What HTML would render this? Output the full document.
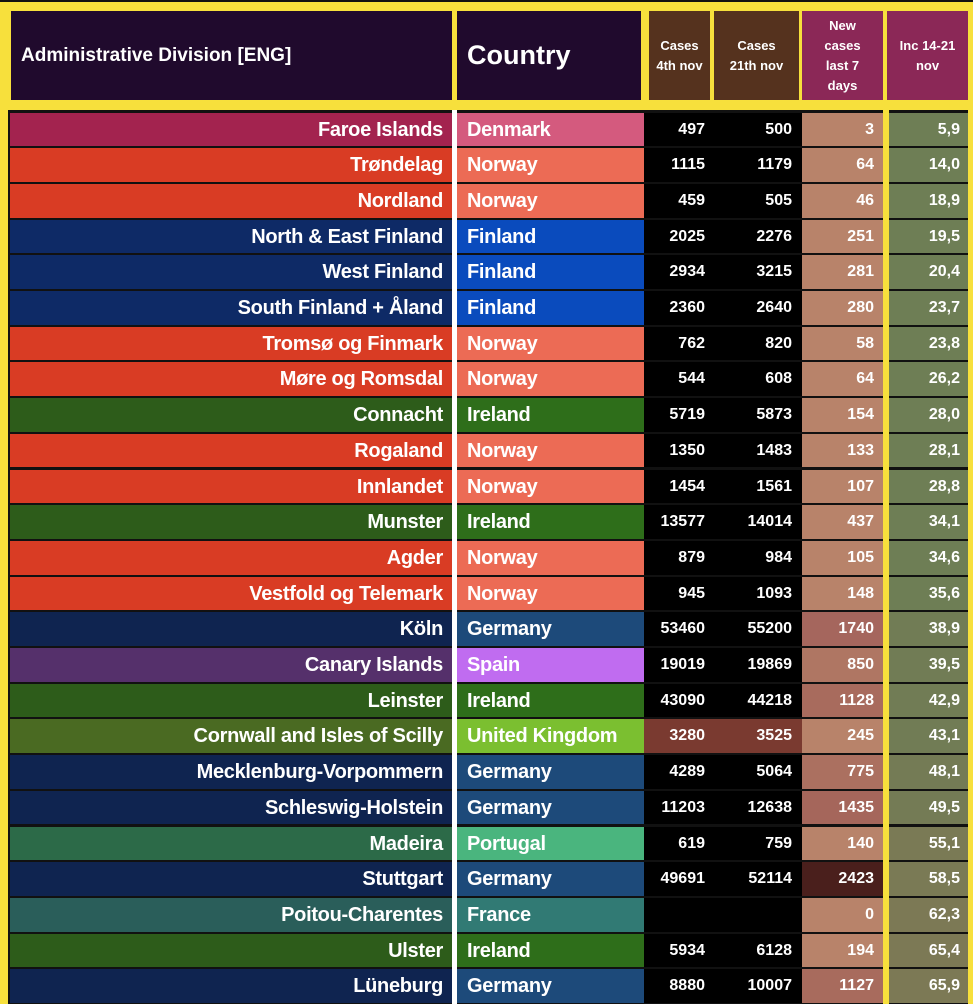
<!DOCTYPE html>
<html><head><meta charset="utf-8"><style>
body{margin:0;width:973px;height:1004px;overflow:hidden;background:#f7e03c;font-family:"Liberation Sans",sans-serif;font-weight:bold;color:#fff;position:relative}
.h{position:absolute;top:11px;height:89px;display:flex;align-items:center;justify-content:center;text-align:center}
.r{position:absolute;left:0;width:973px;height:35.7px}
.r div{position:absolute;top:1px;height:33.7px;line-height:34px;box-sizing:border-box;white-space:nowrap}
.n{left:10px;width:442px;text-align:right;padding-right:9px;font-size:20px;letter-spacing:-0.3px}
.c{left:457px;width:187px;padding-left:10px;font-size:20px;letter-spacing:-0.3px}
.a{left:644px;width:71px;background:#000;text-align:right;padding-right:10px;font-size:16px}
.b{left:715px;width:87px;background:#000;text-align:right;padding-right:10px;font-size:16px}
.d{left:802px;width:81px;text-align:right;padding-right:9px;font-size:16px}
.e{left:889px;width:79px;text-align:right;padding-right:8px;font-size:16px}
</style></head><body>
<div style="position:absolute;left:0;top:0;width:973px;height:2px;background:#111"></div>
<div class="h" style="left:11px;width:441px;background:#200a2d;justify-content:flex-start;padding-left:10px;box-sizing:border-box;font-size:19px">Administrative Division [ENG]</div>
<div class="h" style="left:457px;width:184px;background:#200a2d;justify-content:flex-start;padding-left:10px;box-sizing:border-box;font-size:27px">Country</div>
<div class="h" style="left:649px;width:61px;background:#55321e;font-size:13px;line-height:20px">Cases<br>4th nov</div>
<div class="h" style="left:714px;width:85px;background:#55321e;font-size:13px;line-height:20px">Cases<br>21th nov</div>
<div class="h" style="left:802px;width:81px;background:#8b2857;font-size:13px;line-height:20px">New<br>cases<br>last 7<br>days</div>
<div class="h" style="left:887px;width:81px;background:#8b2857;font-size:13px;line-height:20px">Inc 14-21<br>nov</div>
<div style="position:absolute;left:0;top:110px;width:973px;height:894px;background:#111"></div>
<div style="position:absolute;left:0;top:110px;width:8px;height:894px;background:#f7e03c"></div>
<div style="position:absolute;left:883px;top:110px;width:6px;height:894px;background:#f7e03c"></div>
<div style="position:absolute;left:968px;top:110px;width:5px;height:894px;background:#f7e03c"></div>
<div style="position:absolute;left:452px;top:110px;width:5px;height:894px;background:#fff"></div>

<div class="r" style="top:111.5px"><div class="n" style="background:#a3234f">Faroe Islands</div><div class="c" style="background:#d45a7e">Denmark</div><div class="a">497</div><div class="b">500</div><div class="d" style="background:#b8836a">3</div><div class="e" style="background:#6e7e55">5,9</div></div>
<div class="r" style="top:147.2px"><div class="n" style="background:#d93c24">Trøndelag</div><div class="c" style="background:#ec6b55">Norway</div><div class="a">1115</div><div class="b">1179</div><div class="d" style="background:#b8836a">64</div><div class="e" style="background:#6e7e55">14,0</div></div>
<div class="r" style="top:182.9px"><div class="n" style="background:#d93c24">Nordland</div><div class="c" style="background:#ec6b55">Norway</div><div class="a">459</div><div class="b">505</div><div class="d" style="background:#b8836a">46</div><div class="e" style="background:#6e7e55">18,9</div></div>
<div class="r" style="top:218.6px"><div class="n" style="background:#0e2a66">North &amp; East Finland</div><div class="c" style="background:#0a4bbd">Finland</div><div class="a">2025</div><div class="b">2276</div><div class="d" style="background:#b8836a">251</div><div class="e" style="background:#6e7e55">19,5</div></div>
<div class="r" style="top:254.3px"><div class="n" style="background:#0e2a66">West Finland</div><div class="c" style="background:#0a4bbd">Finland</div><div class="a">2934</div><div class="b">3215</div><div class="d" style="background:#b8836a">281</div><div class="e" style="background:#6e7e55">20,4</div></div>
<div class="r" style="top:290px"><div class="n" style="background:#0e2a66">South Finland + Åland</div><div class="c" style="background:#0a4bbd">Finland</div><div class="a">2360</div><div class="b">2640</div><div class="d" style="background:#b8836a">280</div><div class="e" style="background:#6e7e55">23,7</div></div>
<div class="r" style="top:325.7px"><div class="n" style="background:#d93c24">Tromsø og Finmark</div><div class="c" style="background:#ec6b55">Norway</div><div class="a">762</div><div class="b">820</div><div class="d" style="background:#b8836a">58</div><div class="e" style="background:#6e7e55">23,8</div></div>
<div class="r" style="top:361.4px"><div class="n" style="background:#d93c24">Møre og Romsdal</div><div class="c" style="background:#ec6b55">Norway</div><div class="a">544</div><div class="b">608</div><div class="d" style="background:#b8836a">64</div><div class="e" style="background:#6e7e55">26,2</div></div>
<div class="r" style="top:397.1px"><div class="n" style="background:#2d5c1a">Connacht</div><div class="c" style="background:#2e6e1a">Ireland</div><div class="a">5719</div><div class="b">5873</div><div class="d" style="background:#b8836a">154</div><div class="e" style="background:#6e7e55">28,0</div></div>
<div class="r" style="top:432.8px"><div class="n" style="background:#d93c24">Rogaland</div><div class="c" style="background:#ec6b55">Norway</div><div class="a">1350</div><div class="b">1483</div><div class="d" style="background:#b8836a">133</div><div class="e" style="background:#6e7e55">28,1</div></div>
<div class="r" style="top:468.5px"><div class="n" style="background:#d93c24">Innlandet</div><div class="c" style="background:#ec6b55">Norway</div><div class="a">1454</div><div class="b">1561</div><div class="d" style="background:#b8836a">107</div><div class="e" style="background:#6e7e55">28,8</div></div>
<div class="r" style="top:504.2px"><div class="n" style="background:#2d5c1a">Munster</div><div class="c" style="background:#2e6e1a">Ireland</div><div class="a">13577</div><div class="b">14014</div><div class="d" style="background:#b8836a">437</div><div class="e" style="background:#6e7e55">34,1</div></div>
<div class="r" style="top:539.9px"><div class="n" style="background:#d93c24">Agder</div><div class="c" style="background:#ec6b55">Norway</div><div class="a">879</div><div class="b">984</div><div class="d" style="background:#b8836a">105</div><div class="e" style="background:#6e7e55">34,6</div></div>
<div class="r" style="top:575.6px"><div class="n" style="background:#d93c24">Vestfold og Telemark</div><div class="c" style="background:#ec6b55">Norway</div><div class="a">945</div><div class="b">1093</div><div class="d" style="background:#b8836a">148</div><div class="e" style="background:#6e7e55">35,6</div></div>
<div class="r" style="top:611.3px"><div class="n" style="background:#0f2450">Köln</div><div class="c" style="background:#1d4a7a">Germany</div><div class="a">53460</div><div class="b">55200</div><div class="d" style="background:#a5665d">1740</div><div class="e" style="background:#717c55">38,9</div></div>
<div class="r" style="top:647px"><div class="n" style="background:#55306b">Canary Islands</div><div class="c" style="background:#c06cf0">Spain</div><div class="a">19019</div><div class="b">19869</div><div class="d" style="background:#af7663">850</div><div class="e" style="background:#717c55">39,5</div></div>
<div class="r" style="top:682.7px"><div class="n" style="background:#2d5c1a">Leinster</div><div class="c" style="background:#2e6e1a">Ireland</div><div class="a">43090</div><div class="b">44218</div><div class="d" style="background:#a86b5d">1128</div><div class="e" style="background:#717c55">42,9</div></div>
<div class="r" style="top:718.4px"><div class="n" style="background:#4a6a22">Cornwall and Isles of Scilly</div><div class="c" style="background:#7bbf30">United Kingdom</div><div class="a" style="background:#7a3a30">3280</div><div class="b" style="background:#7a3a30">3525</div><div class="d" style="background:#b8836a">245</div><div class="e" style="background:#717c55">43,1</div></div>
<div class="r" style="top:754.1px"><div class="n" style="background:#0f2450">Mecklenburg-Vorpommern</div><div class="c" style="background:#1d4a7a">Germany</div><div class="a">4289</div><div class="b">5064</div><div class="d" style="background:#ab7060">775</div><div class="e" style="background:#747b55">48,1</div></div>
<div class="r" style="top:789.8px"><div class="n" style="background:#0f2450">Schleswig-Holstein</div><div class="c" style="background:#1d4a7a">Germany</div><div class="a">11203</div><div class="b">12638</div><div class="d" style="background:#a5665b">1435</div><div class="e" style="background:#747b55">49,5</div></div>
<div class="r" style="top:825.5px"><div class="n" style="background:#2c6a48">Madeira</div><div class="c" style="background:#4ab57e">Portugal</div><div class="a">619</div><div class="b">759</div><div class="d" style="background:#b8836a">140</div><div class="e" style="background:#7a7a55">55,1</div></div>
<div class="r" style="top:861.2px"><div class="n" style="background:#0f2450">Stuttgart</div><div class="c" style="background:#1d4a7a">Germany</div><div class="a">49691</div><div class="b">52114</div><div class="d" style="background:#4a1f1c">2423</div><div class="e" style="background:#7a7a55">58,5</div></div>
<div class="r" style="top:896.9px"><div class="n" style="background:#2a5e5a">Poitou-Charentes</div><div class="c" style="background:#317a74">France</div><div class="a"></div><div class="b"></div><div class="d" style="background:#b8836a">0</div><div class="e" style="background:#7c7955">62,3</div></div>
<div class="r" style="top:932.6px"><div class="n" style="background:#2d5c1a">Ulster</div><div class="c" style="background:#2e6e1a">Ireland</div><div class="a">5934</div><div class="b">6128</div><div class="d" style="background:#b8836a">194</div><div class="e" style="background:#7c7955">65,4</div></div>
<div class="r" style="top:968.3px"><div class="n" style="background:#0f2450">Lüneburg</div><div class="c" style="background:#1d4a7a">Germany</div><div class="a">8880</div><div class="b">10007</div><div class="d" style="background:#a86b5d">1127</div><div class="e" style="background:#7c7955">65,9</div></div>
</body></html>
